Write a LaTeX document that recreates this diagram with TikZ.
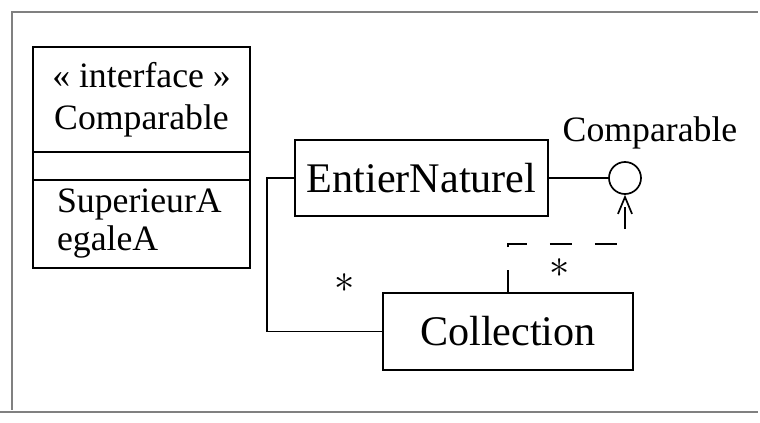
\documentclass[tikz,border=0pt]{standalone}
\usepackage{fontspec}
\setmainfont{Liberation Serif}
\usepackage{tikz}
\usetikzlibrary{positioning,arrows.meta}

\begin{document}
\begin{tikzpicture}[x=0.0125cm, y=-0.0125cm,
  classbox/.style={draw, line width=0.7, inner sep=0, outer sep=0, minimum width=2.71cm},
  bigbox/.style={draw, line width=0.7, inner sep=0, font=\fontsize{15}{18}\selectfont},
  depline/.style={line width=0.6, dash pattern=on 8pt off 8pt, -{Straight Barb[length=6pt, width=5pt]}},
  mult/.style={font=\fontsize{14}{15}\selectfont}]
\useasboundingbox (0,0) rectangle (760,423);

% frame %
\draw[gray, line width=0.4] (758,12) -- (12,12) -- (12,410);
\draw[gray, line width=0.4] (0,412) -- (758,412);

% nodes %
\node[classbox, minimum height=1.31cm, align=center, font=\fontsize{12.7}{15}\selectfont] (title) at (141.5,99.5) {« interface »\\Comparable};
\node[classbox, minimum height=0.35cm, anchor=north] (attrs) at (title.south) {};
\node[classbox, minimum height=1.1cm, anchor=north, inner xsep=0.3cm, text width=2.11cm, align=left, font=\fontsize{12.7}{13.5}\selectfont] (ops) at (attrs.south) {SuperieurA\\egaleA};

\node[bigbox, minimum width=3.16cm, minimum height=0.95cm] (entier) at (421.5,178) {EntierNaturel};
\node[bigbox, minimum width=3.125cm, minimum height=0.96cm] (collection) at (508,331.5) {Collection};
\node[draw, circle, line width=0.6, minimum size=0.4cm, inner sep=0] (lolli) at (625,178) {};
\node[font=\fontsize{12.7}{15}\selectfont] (ilabel) at (650,133) {Comparable};

% edges %

%association%
\draw[line width=0.6] (entier.west) -- ++(-27,0) |- (collection.west);
\node[mult] (m1) at (345,283) {$\ast$};

%interface%
\draw[line width=0.6] (entier.east) -- (lolli.west);

%dependency%
\draw[depline] (collection.north) -- ++(0,-48) -| (lolli.south);
\node[mult] (m2) at (560,268) {$\ast$};

\end{tikzpicture}
\end{document}
